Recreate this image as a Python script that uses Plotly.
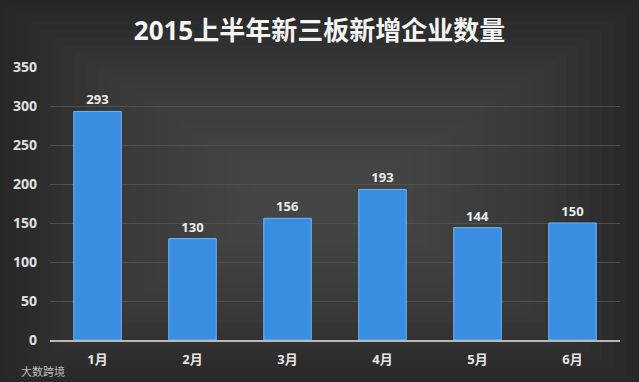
import plotly.graph_objects as go

# New companies listed on the NEEQ in H1 2015, by month
months = ["1月", "2月", "3月", "4月", "5月", "6月"]
counts = [293, 130, 156, 193, 144, 150]
y_ticks = [0, 50, 100, 150, 200, 250, 300, 350]

title_text = "2015上半年新三板新增企业数量"
font_family = "Open Sans, Noto Sans CJK SC, sans-serif"

fig = go.Figure()
fig.add_trace(go.Bar(
    x=months,
    y=counts,
    text=[str(v) for v in counts],
    textposition="outside",
    cliponaxis=False,
    textfont=dict(color="#ececec", size=13, family=font_family, weight="bold"),
    marker=dict(color="#3a8ee2", line=dict(color="#6fb6f5", width=1)),
    hoverinfo="x+y",
))

# soft vignette: many stacked translucent frames lighten toward the centre
shapes = []
steps = 22
for i in range(steps):
    f = i / steps
    shapes.append(dict(
        type="rect", xref="paper", yref="paper", layer="below",
        x0=-0.08 + f * 0.45, x1=1.03 - f * 0.45,
        y0=-0.16 + f * 0.62, y1=1.22 - f * 0.62,
        fillcolor="rgba(90,90,90,0.055)", line=dict(width=0),
    ))

fig.update_layout(
    width=639, height=382,
    margin=dict(l=50, r=19, t=67, b=42),
    paper_bgcolor="#262626",
    plot_bgcolor="rgba(0,0,0,0)",
    bargap=0.5,
    showlegend=False,
    shapes=shapes,
    title=dict(
        text=title_text,
        x=0.5, xanchor="center", y=0.92, yanchor="middle",
        font=dict(color="#f4f4f4", size=26, family=font_family, weight="bold"),
    ),
    xaxis=dict(
        showgrid=False, showline=True, linecolor="#b8b8b8", linewidth=2,
        tickfont=dict(color="#e6e6e6", size=13, family=font_family, weight="bold"),
        ticks="", ticklabelstandoff=6,
    ),
    yaxis=dict(
        range=[0, 350], tickvals=y_ticks,
        showgrid=True, gridcolor="#505050", gridwidth=1,
        zeroline=False, showline=False,
        tickfont=dict(color="#e0e0e0", size=14, family=font_family, weight="bold"),
        ticklabelstandoff=12,
    ),
    annotations=[dict(
        text="大数跨境", xref="paper", yref="paper",
        x=-0.055, y=-0.115, xanchor="left", yanchor="middle",
        showarrow=False, font=dict(color="#bbbbbb", size=11, family=font_family),
    )],
)

fig.write_html("out.html")
